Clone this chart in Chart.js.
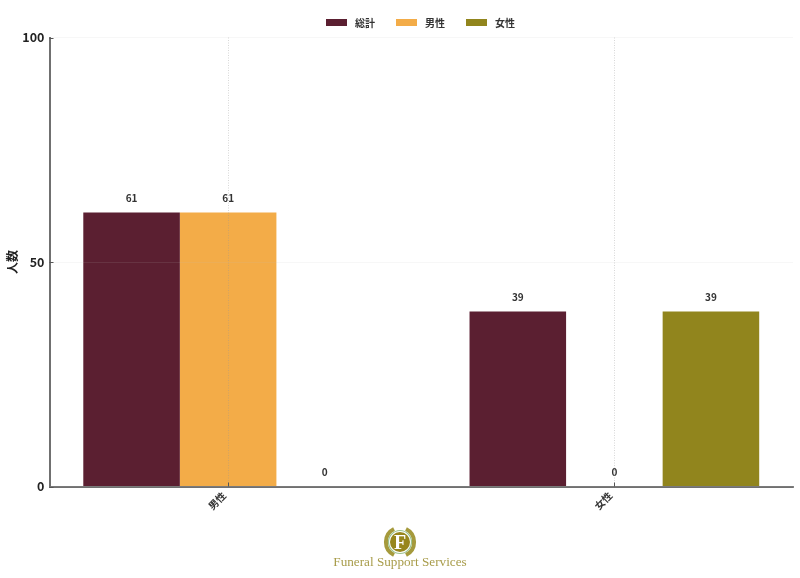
<!DOCTYPE html>
<html>
<head>
<meta charset="utf-8">
<script src="https://cdn.jsdelivr.net/npm/chart.js@4"></script>
<style>
  html, body { margin: 0; padding: 0; background: #fff; }
  #wrap { position: relative; width: 800px; height: 578px; overflow: hidden; }
  #leyenda { position: absolute; left: 0; width: 841px; top: 16px; height: 14px; display: flex; justify-content: center;
             gap: 21px; font: bold 10px "Noto Sans CJK JP", sans-serif; color: #333; line-height: 14px; }
  #leyenda span.caja { display: inline-block; width: 21px; height: 7px; margin-right: 8px; vertical-align: 1px; }
  #logo { position: absolute; left: 383px; top: 526px; }
  #brand { position: absolute; left: 300px; width: 200px; top: 554px; text-align: center;
           font: 13.2px "Liberation Serif", serif; color: #a89c4a; white-space: nowrap; }
</style>
</head>
<body>
<div id="wrap">
  <canvas id="myChart" width="800" height="578"></canvas>
  <div id="leyenda"></div>
  <svg id="logo" width="34" height="32" viewBox="0 0 34 32">
    <path d="M11 3 A14.5 14.5 0 0 0 11 29" fill="none" stroke="#a59a3c" stroke-width="4"/>
    <path d="M23 3 A14.5 14.5 0 0 1 23 29" fill="none" stroke="#a59a3c" stroke-width="4"/>
    <circle cx="17" cy="16" r="11.5" fill="none" stroke="#9cc28f" stroke-width="1.2"/>
    <circle cx="17" cy="16" r="10" fill="#97861c"/>
    <text x="17" y="23" text-anchor="middle" font-family="Liberation Serif" font-weight="bold" font-size="20" fill="#fff">F</text>
  </svg>
  <div id="brand">Funeral Support Services</div>
</div>
<script>
const categorias = ['男性', '女性'];
const series = ['総計', '男性', '女性'];
const total = [61, 39];
const hombres = [61, 0];
const mujeres = [0, 39];
const colores = ['#5b1f31', '#f3ac48', '#91851d'];
const ticksY = [0, 50, 100];

const fuente = '"Noto Sans CJK JP", "Noto Sans", sans-serif';

function puntos(valores) {
  return valores.map((v, i) => ({ x: i, y: v }));
}

// etiquetas encima de cada barra
const etiquetas = {
  id: 'etiquetas',
  afterDatasetsDraw(chart) {
    const ctx = chart.ctx;
    ctx.save();
    ctx.font = 'bold 10px ' + fuente;
    ctx.fillStyle = '#333';
    ctx.textAlign = 'center';
    ctx.textBaseline = 'middle';
    chart.data.datasets.forEach((ds, i) => {
      chart.getDatasetMeta(i).data.forEach((bar, j) => {
        ctx.fillText(ds.data[j].y, bar.x, bar.y - 14.5);
      });
    });
    ctx.restore();
  }
};

// marcas cortas hacia adentro
const marcas = {
  id: 'marcas',
  afterDraw(chart) {
    const ctx = chart.ctx;
    const a = chart.chartArea;
    ctx.save();
    ctx.strokeStyle = '#555';
    ctx.lineWidth = 1;
    ctx.beginPath();
    chart.scales.y.ticks.forEach(t => {
      const py = Math.round(chart.scales.y.getPixelForValue(t.value)) + 0.5;
      ctx.moveTo(a.left, py);
      ctx.lineTo(a.left + 4, py);
    });
    chart.scales.x.ticks.forEach(t => {
      const px = Math.round(chart.scales.x.getPixelForValue(t.value)) + 0.5;
      ctx.moveTo(px, a.bottom);
      ctx.lineTo(px, a.bottom - 4);
    });
    ctx.stroke();
    ctx.restore();
  }
};

const grafico = new Chart(document.getElementById('myChart'), {
  type: 'bar',
  data: {
    datasets: [
      { label: series[0], data: puntos(total), backgroundColor: colores[0] },
      { label: series[1], data: puntos(hombres), backgroundColor: colores[1] },
      { label: series[2], data: puntos(mujeres), backgroundColor: colores[2] }
    ]
  },
  options: {
    responsive: false,
    animation: false,
    layout: { padding: { top: 37.5, right: 7, left: 0, bottom: 0 } },
    datasets: { bar: { categoryPercentage: 0.75, barPercentage: 1 } },
    plugins: {
      tooltip: { enabled: false },
      legend: { display: false }
    },
    scales: {
      x: {
        type: 'linear',
        offset: false,
        min: -0.4625,
        max: 1.4625,
        afterBuildTicks(scale) { scale.ticks = categorias.map((c, i) => ({ value: i })); },
        afterFit(scale) { scale.height = 91.5; },
        grid: { z: 1, offset: false, color: 'rgba(150,150,150,0.55)', lineWidth: 0.7, drawTicks: false },
        border: { z: 1, color: '#707070', width: 2, dash: [1, 1.5] },
        ticks: {
          callback: v => categorias[v],
          minRotation: 45,
          maxRotation: 45,
          padding: 3,
          labelOffset: -4,
          color: '#333',
          font: { family: fuente, size: 10, weight: 'bold' }
        }
      },
      y: {
        min: 0,
        max: 100,
        afterBuildTicks(scale) { scale.ticks = ticksY.map(v => ({ value: v })); },
        afterFit(scale) { scale.width = 49.5; },
        title: {
          display: true,
          text: '人数',
          color: '#222',
          padding: { top: 5, bottom: 0 },
          font: { family: fuente, size: 12, weight: 'bold' }
        },
        grid: { z: 1, color: 'rgba(190,190,190,0.18)', lineWidth: 0.7, drawTicks: false },
        border: { z: 1, color: '#707070', width: 2 },
        ticks: {
          padding: 5,
          color: '#222',
          font: { family: fuente, size: 12.5, weight: 'bold' }
        }
      }
    }
  },
  plugins: [etiquetas, marcas]
});

// leyenda con las series
const leyenda = document.getElementById('leyenda');
grafico.data.datasets.forEach(ds => {
  const item = document.createElement('div');
  item.innerHTML = '<span class="caja" style="background:' + ds.backgroundColor + '"></span>' + ds.label;
  leyenda.appendChild(item);
});
</script>
</body>
</html>
